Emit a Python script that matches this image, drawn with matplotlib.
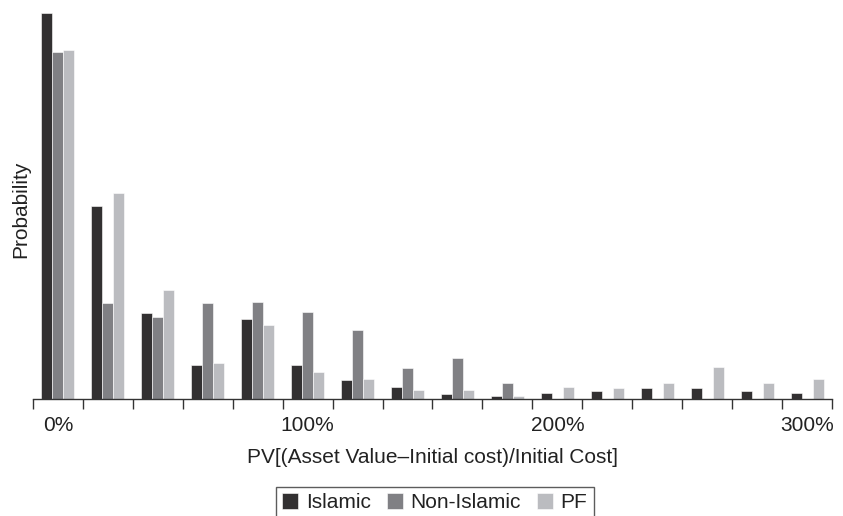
import numpy as np
import matplotlib.pyplot as plt

plt.rcParams['font.family'] = ['Liberation Sans', 'DejaVu Sans']

# bin labels shown every 100% (5 bins) (relative heights)
tick_labels = ['0%', '100%', '200%', '300%']
islamic     = [386.6, 193.0, 86.0, 34.0, 80.6, 34.0, 19.0, 12.0, 5.3, 3.6, 6.3, 8.0, 11.0, 11.0, 8.0, 6.3]
non_islamic = [347.0, 96.0, 82.0, 96.0, 97.3, 87.6, 69.6, 31.3, 41.0, 16.0, 0.0, 0.0, 0.0, 0.0, 0.0, 0.0]
pf          = [349.6, 206.0, 109.3, 36.6, 74.0, 27.3, 20.3, 9.3, 9.3, 3.6, 12.0, 11.0, 16.0, 32.6, 16.0, 20.3]

x = np.arange(len(islamic))
w = 0.22

fig = plt.figure(figsize=(8.43, 5.16), dpi=100)
ax = fig.add_axes([33/843, 1 - 399.3/516, 799/843, 389.3/516])

ax.bar(x - w, islamic, w, color='#323031', edgecolor='white', linewidth=0.4, label='Islamic')
ax.bar(x, non_islamic, w, color='#808084', edgecolor='white', linewidth=0.4, label='Non-Islamic')
ax.bar(x + w, pf, w, color='#bbbcc0', edgecolor='white', linewidth=0.4, label='PF')

ax.set_xlim(-0.5, len(x) - 0.5)
ax.set_ylim(0, 389.3)

for s in ['top', 'right', 'left']:
    ax.spines[s].set_visible(False)
ax.spines['bottom'].set_color('#333333')
ax.spines['bottom'].set_linewidth(1.0)

ax.set_yticks([])
# group boundaries get the tick marks, the labels sit under every 5th group
ax.set_xticks(np.arange(-0.5, len(x), 1.0))
ax.set_xticklabels([])
ax.tick_params(axis='x', which='major', length=7, width=1.0, color='#333333', direction='out')
ax.set_xticks(x[::5], tick_labels, minor=True)
ax.tick_params(axis='x', which='minor', length=0, pad=12, labelsize=15, labelcolor='#222222')

ax.set_ylabel('Probability', fontsize=15, color='#222222')
ax.yaxis.set_label_coords(-0.003, 0.487)
ax.set_xlabel('PV[(Asset Value\u2013Initial cost)/Initial Cost]', fontsize=15, color='#222222')
ax.xaxis.set_label_coords(0.5, -0.1636)
ax.xaxis.label.set_verticalalignment('baseline')

leg = fig.legend(loc='upper left', bbox_to_anchor=(276/843, 1 - 487/516), ncol=3,
                 frameon=True, fancybox=False, fontsize=15, handlelength=0.77, handleheight=0.77,
                 handletextpad=0.38, columnspacing=0.75, borderpad=0.3, borderaxespad=0)
leg.get_frame().set_edgecolor('#333333')
leg.get_frame().set_linewidth(1.0)
for t in leg.get_texts():
    t.set_color('#222222')

fig.savefig('out.png', dpi=100)
